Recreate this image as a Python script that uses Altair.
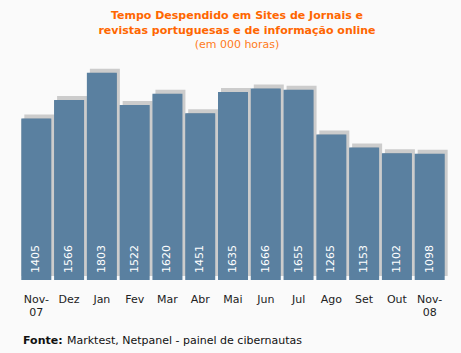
import altair as alt
import pandas as pd

months = ["Nov-|07", "Dez", "Jan", "Fev", "Mar", "Abr", "Mai", "Jun", "Jul", "Ago", "Set", "Out", "Nov-|08"]
hours = [1405, 1566, 1803, 1522, 1620, 1451, 1635, 1666, 1655, 1265, 1153, 1102, 1098]

df = pd.DataFrame({"mes": months, "horas": hours})

FONT = "DejaVu Sans"
W, H = 426, 230

x = alt.X("mes:N", sort=months, title=None,
          scale=alt.Scale(paddingInner=0.085, paddingOuter=0.04),
          axis=alt.Axis(labelAngle=0, ticks=False, domain=False, labelPadding=13,
                        labelFont=FONT, labelFontSize=11, labelColor="#222222",
                        labelExpr="split(datum.label, '|')", labelLineHeight=13))
y = alt.Y("horas:Q", title=None, scale=alt.Scale(domain=[0, 2000], nice=False),
          axis=None)

base = alt.Chart(df).encode(x=x, y=y)

shadow = base.mark_bar(color="#cccccc", xOffset=3, yOffset=-4)
cap = base.mark_bar(color="#9c9c9c", yOffset=-4, cornerRadius=2)
bars = base.mark_bar(color="#5a80a0")
labels = base.mark_text(angle=270, align="left", baseline="middle", color="white",
                        font=FONT, fontSize=11).encode(y=alt.value(H - 7), text="horas:Q")

foot = pd.DataFrame({"t": ["Fonte:"], "r": ["Marktest, Netpanel - painel de cibernautas"]})
f1 = alt.Chart(foot).mark_text(align="left", baseline="middle", font=FONT, fontSize=11,
                               fontWeight="bold", color="#111111").encode(
    x=alt.value(3), y=alt.value(H + 61), text="t:N")
f2 = alt.Chart(foot).mark_text(align="left", baseline="middle", font=FONT, fontSize=11,
                               color="#111111").encode(
    x=alt.value(47), y=alt.value(H + 61), text="r:N")

chart = alt.layer(shadow, cap, bars, labels, f1, f2).properties(
    width=W, height=H,
    title=alt.TitleParams(
        text=["Tempo Despendido em Sites de Jornais e",
              "revistas portuguesas e de informação online"],
        subtitle="(em 000 horas)",
        anchor="middle", frame="group", dx=4,
        font=FONT, fontSize=11, fontWeight="bold", color="#ff6600", lineHeight=15,
        subtitleFont=FONT, subtitleFontSize=11, subtitleColor="#ff7a1a",
        subtitlePadding=3, offset=0),
    autosize=alt.AutoSizeParams(type="none"),
    padding={"left": 20, "top": 50, "right": 15, "bottom": 73},
    background="#fafafa",
).configure_view(stroke=None)

chart.save("out.html", embed_options={"renderer": "svg", "actions": False})
